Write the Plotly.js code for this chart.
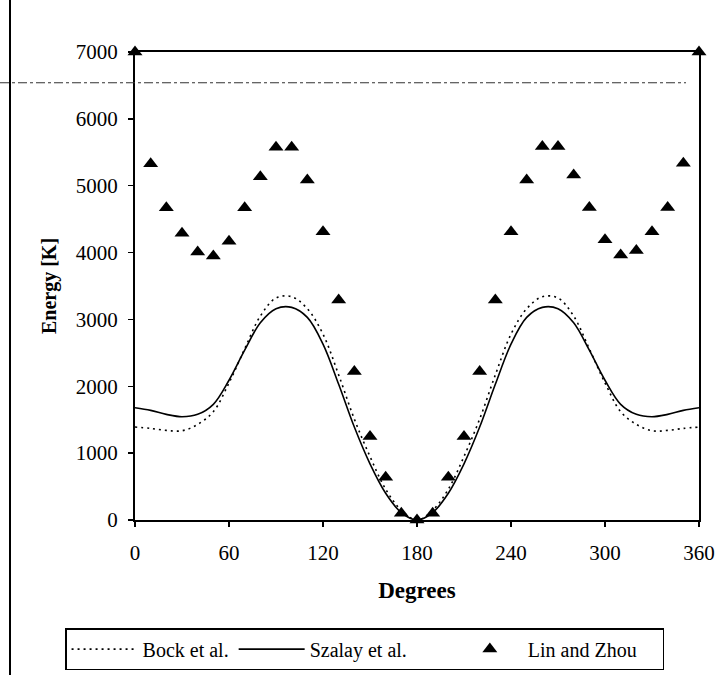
<!DOCTYPE html>
<html>
<head>
<meta charset="utf-8">
<script src="https://cdn.plot.ly/plotly-3.0.1.min.js"></script>
<style>html,body{margin:0;padding:0;background:#fff;}#chart{width:728px;height:675px;}</style>
</head>
<body>
<div id="chart"></div>
<script>
// Degrees for the computed curves (every 10 degrees)
const curveDegrees = [0,10,20,30,40,50,60,70,80,90,100,110,120,130,140,150,160,170,180,
  190,200,210,220,230,240,250,260,270,280,290,300,310,320,330,340,350,360];
const bockEnergy = [1390,1370,1340,1335,1430,1620,2050,2560,3050,3320,3340,3160,2780,2170,1510,950,460,145,0,
  145,460,950,1510,2170,2780,3160,3340,3320,3050,2560,2050,1620,1430,1335,1340,1370,1390];
const szalayEnergy = [1680,1640,1580,1545,1580,1730,2090,2540,2950,3160,3180,3030,2630,2030,1390,840,400,110,0,
  110,400,840,1390,2030,2630,3030,3180,3160,2950,2540,2090,1730,1580,1545,1580,1640,1680];
// Lin and Zhou points
const linDegrees = [0,10,20,30,40,50,60,70,80,90,100,110,120,130,140,150,160,170,180,
  190,200,210,220,230,240,250,260,270,280,290,300,310,320,330,340,350,360];
const linEnergy = [7000,5330,4670,4290,4010,3950,4170,4670,5135,5575,5575,5085,4310,3290,2220,1250,640,100,0,
  100,640,1250,2220,3290,4310,5085,5585,5585,5160,4676,4190,3965,4030,4310,4676,5335,7000];
const xTicks = [0,60,120,180,240,300,360];
const yTicks = [0,1000,2000,3000,4000,5000,6000,7000];
const seriesNames = ['Bock et al.', 'Szalay et al.', 'Lin and Zhou'];

const serif = 'Liberation Serif, Times New Roman, serif';
const pad = n => '&nbsp;'.repeat(n);

const traces = [
  {x: curveDegrees, y: bockEnergy, name: seriesNames[0], mode: 'lines', type: 'scatter',
   line: {color: '#000', width: 1.6, dash: '2px,4px', shape: 'spline', smoothing: 1}},
  {x: curveDegrees, y: szalayEnergy, name: seriesNames[1] + pad(8), mode: 'lines', type: 'scatter',
   line: {color: '#000', width: 1.6, shape: 'spline', smoothing: 1}},
  {x: linDegrees, y: linEnergy, name: seriesNames[2] + pad(4), mode: 'markers', type: 'scatter',
   cliponaxis: false,
   marker: {symbol: 'triangle-up', size: 13, color: '#000'}}
];

const layout = {
  width: 728, height: 675,
  margin: {l: 135, r: 29, t: 52, b: 155, autoexpand: false},
  paper_bgcolor: '#fff', plot_bgcolor: '#fff',
  font: {family: serif, color: '#000', size: 21},
  showlegend: true,
  legend: {
    orientation: 'h', x: -0.124, xanchor: 'left', y: -0.231, yanchor: 'top',
    bordercolor: '#000', borderwidth: 1.5, bgcolor: '#fff',
    font: {family: serif, size: 20, color: '#000'},
    itemwidth: 66,
    traceorder: 'normal'
  },
  xaxis: {
    range: [0, 360], tickvals: xTicks, ticktext: xTicks.map(String), automargin: false,
    showgrid: false, zeroline: false, showline: true, linecolor: '#000', linewidth: 2,
    mirror: true, ticks: 'outside', ticklen: 5, tickwidth: 1.5, tickcolor: '#000',
    ticklabelstandoff: 8,
    tickfont: {family: serif, size: 21, color: '#000'},
    title: {text: '<b>Degrees</b>', font: {family: serif, size: 23, color: '#000'}, standoff: 18}
  },
  yaxis: {
    range: [0, 7000], tickvals: yTicks, ticktext: yTicks.map(String), automargin: false,
    showgrid: false, zeroline: false, showline: true, linecolor: '#000', linewidth: 2,
    mirror: true, ticks: 'outside', ticklen: 5, tickwidth: 1.5, tickcolor: '#000',
    ticklabelstandoff: 6,
    tickfont: {family: serif, size: 21, color: '#000'},
    title: {text: '<b>Energy [K]</b>', font: {family: serif, size: 20, color: '#000'}, standoff: 14}
  },
  shapes: [
    {type: 'line', xref: 'paper', yref: 'paper', x0: (10-135)/564, x1: (10-135)/564, y0: -0.331, y1: 1.111,
     line: {color: '#000', width: 2}},
    {type: 'line', xref: 'paper', yref: 'y', x0: -135/564, x1: (686-135)/564, y0: 6540, y1: 6540,
     line: {color: '#333', width: 1.2, dash: 'dashdot'}}
  ]
};

Plotly.newPlot('chart', traces, layout, {displayModeBar: false, staticPlot: true});
</script>
</body>
</html>
